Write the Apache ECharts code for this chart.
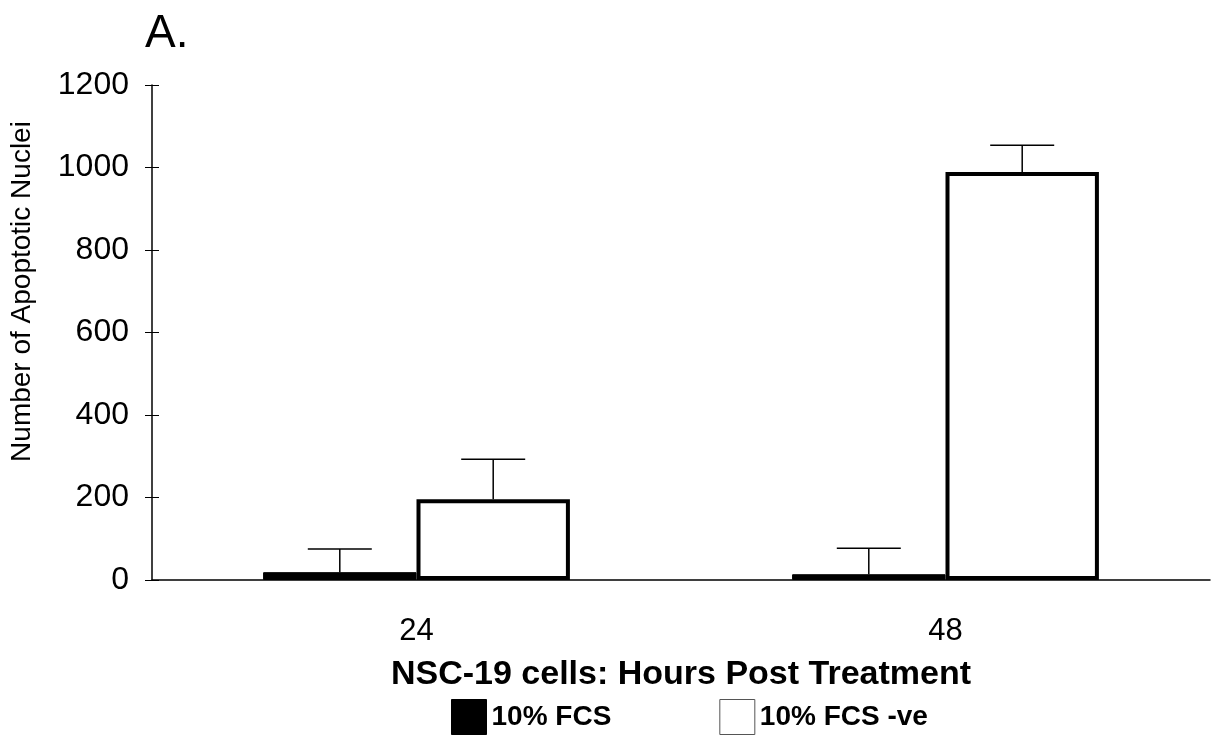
<!DOCTYPE html>
<html lang="en">
    <head>
        <meta charset="utf-8" />
        <title>Apoptotic Nuclei</title>
        <style>
            * {
                margin: 0;
                padding: 0;
            }
            html,
            body {
                width: 100%;
                height: 100%;
                background: #fff;
            }
            #chart {
                width: 1214px;
                height: 738px;
            }
        </style>
    </head>
    <body>
        <div id="chart"></div>
        <script src="https://cdn.jsdelivr.net/npm/echarts@6/dist/echarts.min.js"></script>
        <script>
            const categories = ['24', '48']
            const fcs = [19, 14]
            const fcsErr = [56, 63]
            const fcsNeg = [196, 989]
            const fcsNegErr = [97, 65]
            const yTicks = [0, 200, 400, 600, 800, 1000, 1200]

            const BAR = 0.29 // bar width as part of a category
            const font = 'Liberation Sans, Arial, sans-serif'

            // upward error bar drawn over the centre of one bar
            function errorSeries(values, errs, side) {
                return {
                    type: 'custom',
                    z: 5,
                    silent: true,
                    data: values.map((v, i) => [i, v, v + errs[i]]),
                    renderItem(params, api) {
                        const band = api.size([1, 0])[0]
                        const dx = (side * band * BAR) / 2
                        const low = api.coord([api.value(0), api.value(1)])
                        const high = api.coord([api.value(0), api.value(2)])
                        const x = low[0] + dx
                        const style = { stroke: '#000', lineWidth: 1.5 }
                        return {
                            type: 'group',
                            children: [
                                { type: 'line', shape: { x1: x, y1: low[1], x2: x, y2: high[1] }, style },
                                { type: 'line', shape: { x1: x - 32, y1: high[1], x2: x + 32, y2: high[1] }, style },
                            ],
                        }
                    },
                }
            }

            const chart = echarts.init(document.getElementById('chart'))
            chart.setOption({
                animation: false,
                title: {
                    text: 'A.',
                    left: 140,
                    top: 6,
                    textStyle: { fontFamily: font, fontSize: 46, fontWeight: 'normal', color: '#000' },
                },
                grid: { left: 152, right: 4, top: 85, bottom: 158, outerBoundsMode: 'none' },
                legend: {
                    bottom: -2,
                    left: 446,
                    itemWidth: 35,
                    itemHeight: 35,
                    itemGap: 108,
                    icon: 'rect',
                    textStyle: { fontFamily: font, fontSize: 28, fontWeight: 'bold', color: '#000' },
                    data: [
                        { name: '10% FCS', itemStyle: { color: '#000', borderColor: '#000', borderWidth: 1 } },
                        { name: '10% FCS -ve', itemStyle: { color: '#fff', borderColor: '#555', borderWidth: 1 } },
                    ],
                },
                xAxis: {
                    type: 'category',
                    data: categories,
                    name: 'NSC-19 cells: Hours Post Treatment',
                    nameLocation: 'middle',
                    nameGap: 78,
                    nameTextStyle: { fontFamily: font, fontSize: 34, fontWeight: 'bold', color: '#000' },
                    axisLine: { lineStyle: { color: '#000', width: 1.5 } },
                    axisTick: { length: 12, lineStyle: { color: '#000' } },
                    axisLabel: { fontFamily: font, fontSize: 31, color: '#000', margin: 36 },
                },
                yAxis: [
                    {
                        type: 'value',
                        min: 0,
                        max: 1200,
                        interval: 200,
                        name: 'Number of Apoptotic Nuclei',
                        nameLocation: 'middle',
                        nameGap: 116,
                        nameTextStyle: { fontFamily: font, fontSize: 28, color: '#000', padding: [0, 0, 0, 82] },
                        axisLine: { show: true, lineStyle: { color: '#000', width: 1.5 } },
                        axisTick: { show: true, length: 7, lineStyle: { color: '#000' } },
                        splitLine: { show: false },
                        axisLabel: {
                            fontFamily: font,
                            fontSize: 32,
                            color: '#000',
                            margin: 23,
                            formatter: (v) => (yTicks.includes(v) ? String(v) : ''),
                        },
                    },
                    {
                        // inner half of the crossing ticks
                        type: 'value',
                        position: 'left',
                        min: 0,
                        max: 1200,
                        interval: 200,
                        axisLine: { show: false },
                        axisTick: { show: true, inside: true, length: 7, lineStyle: { color: '#000' } },
                        axisLabel: { show: false },
                        splitLine: { show: false },
                    },
                ],
                series: [
                    {
                        name: '10% FCS',
                        type: 'bar',
                        data: fcs,
                        barWidth: BAR * 100 + '%',
                        barGap: '0%',
                        itemStyle: { color: '#000', borderColor: '#000', borderWidth: 1 },
                    },
                    {
                        name: '10% FCS -ve',
                        type: 'bar',
                        data: fcsNeg,
                        barWidth: BAR * 100 + '%',
                        itemStyle: { color: '#fff', borderColor: '#000', borderWidth: 4 },
                    },
                    errorSeries(fcs, fcsErr, -1),
                    errorSeries(fcsNeg, fcsNegErr, 1),
                ],
            })
        </script>
    </body>
</html>
